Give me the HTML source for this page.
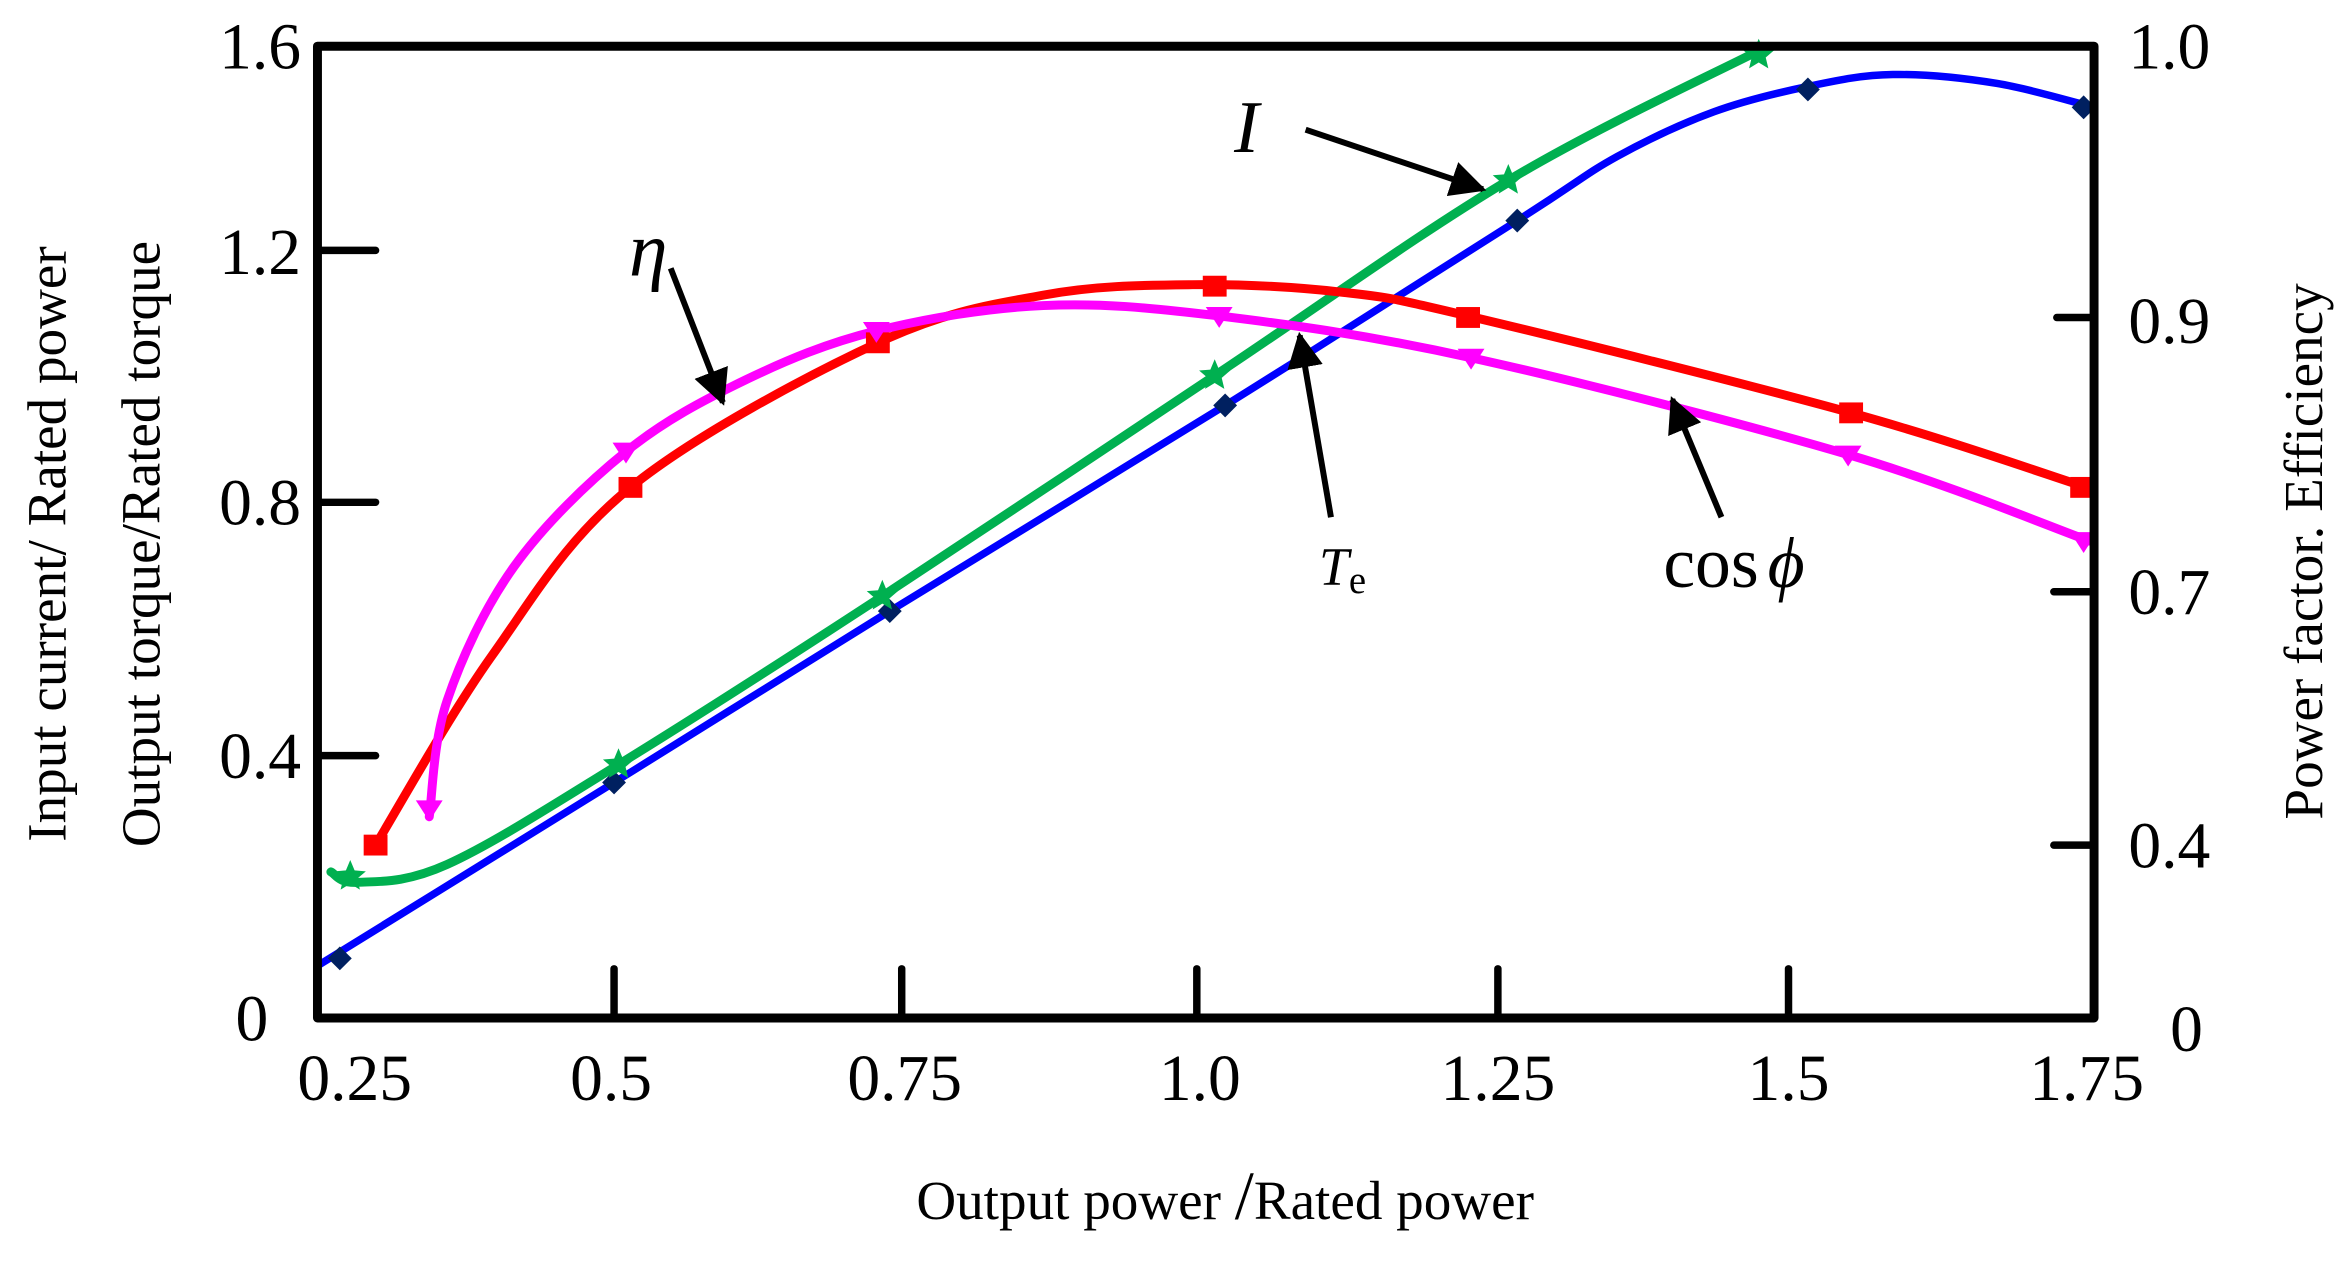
<!DOCTYPE html>
<html><head><meta charset="utf-8"><style>
html,body{margin:0;padding:0;background:#fff}
svg{display:block}
text{font-family:"Liberation Serif",serif;fill:#000}
</style></head><body>
<svg id="s" width="2337" height="1266" viewBox="0 0 1568 849.4" xmlns="http://www.w3.org/2000/svg">
<rect width="1568" height="850" fill="#fff"/>
<g id="curves"></g>
<path d="M213,31 H1405 V683 H213 Z" fill="none" stroke="#000" stroke-width="6" stroke-linejoin="round"/>
<g stroke="#000" stroke-width="5" stroke-linecap="round">
<line x1="213" y1="168" x2="252" y2="168"/>
<line x1="213" y1="337" x2="252" y2="337"/>
<line x1="213" y1="507" x2="252" y2="507"/>
<line x1="1405" y1="213" x2="1380" y2="213"/>
<line x1="1405" y1="397" x2="1378" y2="397"/>
<line x1="1405" y1="567" x2="1378" y2="567"/>
<line x1="412" y1="683" x2="412" y2="650"/>
<line x1="605" y1="683" x2="605" y2="650"/>
<line x1="803" y1="683" x2="803" y2="650"/>
<line x1="1005" y1="683" x2="1005" y2="650"/>
<line x1="1200" y1="683" x2="1200" y2="650"/>
</g>
<g font-size="44" text-anchor="end">
<text x="202" y="46">1.6</text>
<text x="202" y="184">1.2</text>
<text x="202" y="352">0.8</text>
<text x="202" y="522">0.4</text>
<text x="180" y="698">0</text>
</g>
<g font-size="44" text-anchor="start">
<text x="1428" y="46">1.0</text>
<text x="1428" y="230">0.9</text>
<text x="1428" y="412">0.7</text>
<text x="1428" y="582">0.4</text>
<text x="1456" y="705">0</text>
</g>
<g font-size="44" text-anchor="middle">
<text x="238" y="738">0.25</text>
<text x="410" y="738">0.5</text>
<text x="607" y="738">0.75</text>
<text x="805" y="738">1.0</text>
<text x="1005" y="738">1.25</text>
<text x="1200" y="738">1.5</text>
<text x="1400" y="738">1.75</text>
</g>
<text x="822" y="818" font-size="37" text-anchor="middle">Output power <tspan font-size="46">/</tspan>Rated power</text>
<text transform="translate(44,365) rotate(-90)" font-size="37" text-anchor="middle">Input current/ Rated power</text>
<text transform="translate(107,365) rotate(-90)" font-size="37" text-anchor="middle">Output torque/Rated torque</text>
<text transform="translate(1558,370) rotate(-90)" font-size="37" text-anchor="middle">Power factor. Efficiency</text>
<text x="828" y="102" font-size="50" font-style="italic">I</text>
<text x="422" y="185" font-size="52" font-style="italic">η</text>
<text x="885" y="392" font-size="36" font-style="italic">T<tspan font-size="26" font-style="normal" dy="6">e</tspan></text>
<text x="1116" y="394" font-size="48">cos<tspan font-style="italic" dx="6">ϕ</tspan></text>
<defs><marker id="ar" viewBox="0 0 10 10" refX="9" refY="5" markerWidth="6" markerHeight="6" orient="auto"><path d="M0,0 L10,5 L0,10 Z" fill="#000"/></marker></defs>
<g stroke="#000" stroke-width="4" marker-end="url(#ar)">
<line x1="876" y1="87" x2="995" y2="127"/>
<line x1="450" y1="180" x2="485" y2="270"/>
<line x1="893" y1="347" x2="872" y2="225"/>
<line x1="1155" y1="347" x2="1122" y2="268"/>
</g>
</svg>
<script>
function cr(p){let d="M"+p[0][0]+","+p[0][1];for(let i=0;i<p.length-1;i++){const p0=p[i-1]||p[i],p1=p[i],p2=p[i+1],p3=p[i+2]||p2;const c1=[p1[0]+(p2[0]-p0[0])/6,p1[1]+(p2[1]-p0[1])/6],c2=[p2[0]-(p3[0]-p1[0])/6,p2[1]-(p3[1]-p1[1])/6];d+=" C"+c1+" "+c2+" "+p2;}return d;}
const g=document.getElementById("curves");const NS="http://www.w3.org/2000/svg";
function path(pts,col,w){const e=document.createElementNS(NS,"path");e.setAttribute("d",cr(pts));e.setAttribute("fill","none");e.setAttribute("stroke",col);e.setAttribute("stroke-width",w);e.setAttribute("stroke-linecap","round");g.appendChild(e);}
function add(tag,attrs){const e=document.createElementNS(NS,tag);for(const k in attrs)e.setAttribute(k,attrs[k]);g.appendChild(e);}
path([[213,648],[412,525],[597,410],[822,272],[1018,148],[1085,105],[1150,75],[1213,58],[1270,50],[1340,56],[1405,72]],"#0000ff",5);
path([[222,585],[240,592],[300,580],[415,513],[592,400],[815,252],[1012,121],[1182,33]],"#00b050",6);
path([[252,567],[330,440],[423,327],[589,230],[700,198],[800,191],[900,196],[985,212],[1242,277],[1400,327]],"#ff0000",6);
path([[288,548],[300,470],[345,380],[420,303],[500,255],[588,222],[700,205],[818,212],[987,240],[1240,305],[1402,363]],"#ff00ff",6);
[[228,643],[412,525],[597,410],[822,272],[1018,148],[1213,60],[1398,72]].forEach(p=>add("polygon",{points:`${p[0]},${p[1]-8} ${p[0]+8},${p[1]} ${p[0]},${p[1]+8} ${p[0]-8},${p[1]}`,fill:"#002060"}));
[[252,567],[423,327],[589,230],[815,192],[985,213],[1242,277],[1397,327]].forEach(p=>add("rect",{x:p[0]-8,y:p[1]-7,width:16,height:14,fill:"#ff0000"}));
[[288,543],[420,303],[588,222],[818,212],[987,240],[1240,305],[1398,363]].forEach(p=>add("polygon",{points:`${p[0]-9},${p[1]-6} ${p[0]+9},${p[1]-6} ${p[0]},${p[1]+8}`,fill:"#ff00ff"}));
function star(cx,cy,r){let s="";for(let i=0;i<10;i++){const a=-Math.PI/2+i*Math.PI/5,rr=i%2?r*0.45:r;s+=(cx+rr*Math.cos(a))+","+(cy+rr*Math.sin(a))+" ";}return s;}
[[235,588],[415,513],[592,400],[815,252],[1012,121],[1180,37]].forEach(p=>add("polygon",{points:star(p[0],p[1],11),fill:"#00b050"}));
</script>
</body></html>
